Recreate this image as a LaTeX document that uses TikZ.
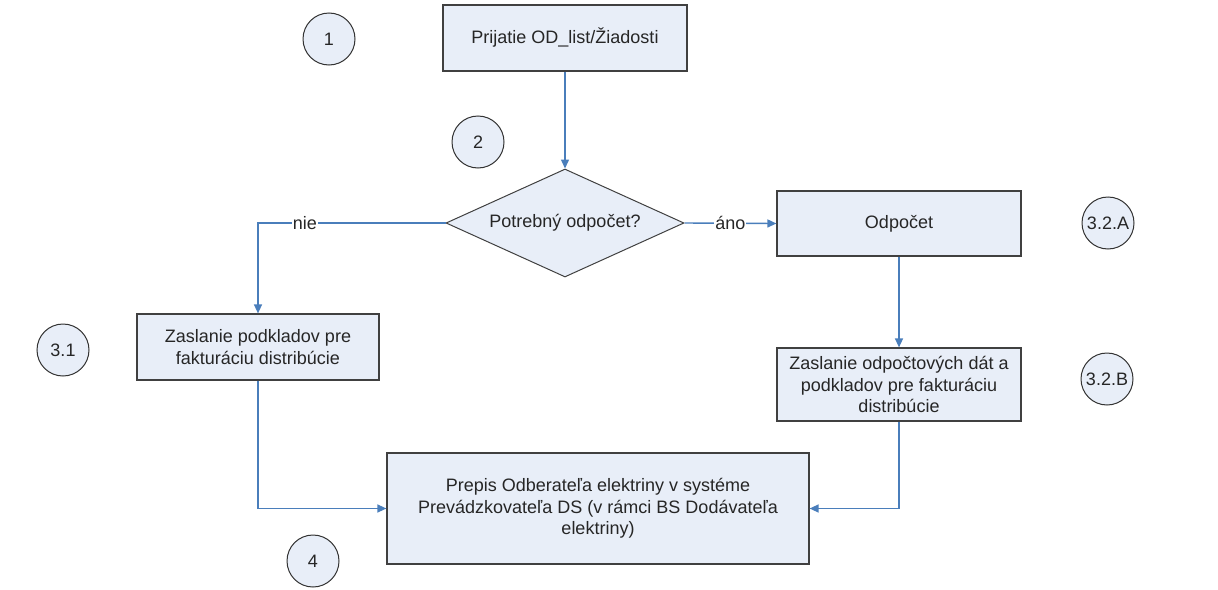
\documentclass[tikz,border=0pt]{standalone}
\usepackage{fontspec}
\setmainfont{Liberation Sans}
\usetikzlibrary{arrows.meta,shapes.geometric}
\definecolor{boxfill}{HTML}{E8EEF8}
\definecolor{linkblue}{HTML}{4A7EBB}
\begin{document}
\begin{tikzpicture}[x=1pt,y=1pt,
  txt/.style={font=\fontsize{18}{21.5}\selectfont, text=black!85},
  procbox/.style={txt, draw=black!75, line width=1.2pt, fill=boxfill, align=center, inner sep=0pt},
  decision/.style={txt, diamond, draw=black!75, line width=1pt, fill=boxfill, inner sep=0pt, aspect=2.2, minimum width=238pt, minimum height=108pt},
  stepcircle/.style={txt, circle, draw=black!80, line width=1pt, fill=boxfill, minimum size=52pt, inner sep=0pt},
  link/.style={draw=linkblue, line width=1.4pt, -{Triangle[length=9pt,width=8pt]}},
  lbl/.style={txt, fill=white, inner sep=1pt}
]
\useasboundingbox (0,0) rectangle (1218,-589);

\node[procbox, minimum width=244pt, minimum height=66pt] (b1) at (565,-38) {Prijatie OD\_list/Žiadosti};
\node[decision] (dec) at (565,-223) {Potrebný odpočet?};
\node[procbox, minimum width=244pt, minimum height=65pt] (odp) at (899,-223.5) {Odpočet};
\node[procbox, minimum width=242pt, minimum height=66pt] (b31) at (258,-347) {Zaslanie podkladov pre\\fakturáciu distribúcie};
\node[procbox, minimum width=244pt, minimum height=73pt] (b32b) at (899,-384.5) {Zaslanie odpočtových dát a\\podkladov pre fakturáciu\\distribúcie};
\node[procbox, minimum width=422pt, minimum height=111pt] (b4) at (598,-508.5) {Prepis Odberateľa elektriny v systéme\\Prevádzkovateľa DS (v rámci BS Dodávateľa\\elektriny)};

\node[stepcircle] (c1) at (329,-39) {1};
\node[stepcircle] (c2) at (478,-142) {2};
\node[stepcircle] (c31) at (63,-350) {3.1};
\node[stepcircle] (c32a) at (1108,-223) {3.2.A};
\node[stepcircle] (c32b) at (1107,-379) {3.2.B};
\node[stepcircle] (c4) at (313,-561) {4};

\draw[link] (b1) -- (dec);
\draw[link] (dec.west) -| node[lbl, pos=0.375] {nie} (b31.north);
\draw[link] (dec.east) -- node[lbl] {áno} (odp.west);
\draw[link] (odp) -- (b32b);
\draw[link] (b31.south) |- (b4.west);
\draw[link] (b32b.south) |- (b4.east);
\end{tikzpicture}
\end{document}
